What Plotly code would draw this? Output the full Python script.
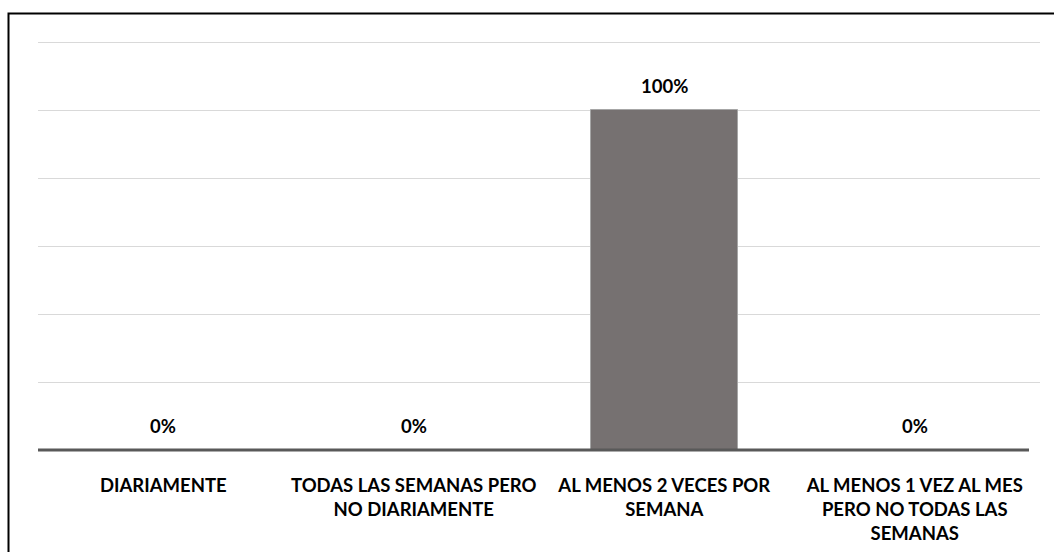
import plotly.graph_objects as go

categories = [
    "DIARIAMENTE",
    "TODAS LAS SEMANAS PERO<br>NO DIARIAMENTE",
    "AL MENOS 2 VECES POR<br>SEMANA",
    "AL MENOS 1 VEZ AL MES<br>PERO NO TODAS LAS<br>SEMANAS",
]
values = [0.0, 0.0, 1.0, 0.0]
value_labels = ["0%", "0%", "100%", "0%"]

FONT = "Lato, 'Noto Sans', sans-serif"
W, H = 1054, 552
L, R, T, B = 38, 14, 39, 102
pw, ph = W - L - R, H - T - B

def px_x(x):
    return (x - L) / pw

def px_y(y):
    return (H - B - y) / ph

fig = go.Figure()
fig.add_trace(go.Bar(
    x=list(range(len(categories))),
    y=values,
    width=0.587,
    marker=dict(color="#767171", line=dict(color="#a6a6a6", width=1)),
    hoverinfo="skip",
))

for i, (v, lab) in enumerate(zip(values, value_labels)):
    fig.add_annotation(
        x=i, y=v, text=f"<b>{lab}</b>", showarrow=False,
        yanchor="middle", yshift=24,
        font=dict(family=FONT, size=18.5, color="#000000"),
    )

# baseline
fig.add_shape(type="line", xref="paper", yref="paper",
              x0=0, x1=px_x(1029), y0=0, y1=0,
              line=dict(color="#595959", width=3), layer="above")
# chart frame
fig.add_shape(type="rect", xref="paper", yref="paper",
              x0=px_x(8.5), x1=px_x(1070), y0=px_y(570), y1=px_y(13.5),
              line=dict(color="#000000", width=2), layer="above")

fig.update_layout(
    width=W, height=H,
    margin=dict(l=L, r=R, t=T, b=B),
    paper_bgcolor="#ffffff", plot_bgcolor="#ffffff",
    showlegend=False,
    bargap=0,
    font=dict(family=FONT, size=18.5, color="#000000"),
    xaxis=dict(
        range=[-0.5, 3.5],
        tickmode="array",
        tickvals=list(range(len(categories))),
        ticktext=[f"<b>{c}</b>" for c in categories],
        ticks="outside", ticklen=0,
        ticklabelstandoff=19,
        automargin=False,
        showgrid=False, showline=False, zeroline=False,
        tickfont=dict(family=FONT, size=18.5, color="#000000"),
        fixedrange=True,
    ),
    yaxis=dict(
        range=[0, 1.21], dtick=0.2, tick0=0,
        showticklabels=False, showgrid=True,
        gridcolor="#d9d9d9", gridwidth=1,
        automargin=False,
        zeroline=False, showline=False, fixedrange=True,
    ),
)

fig.write_html("out.html")
